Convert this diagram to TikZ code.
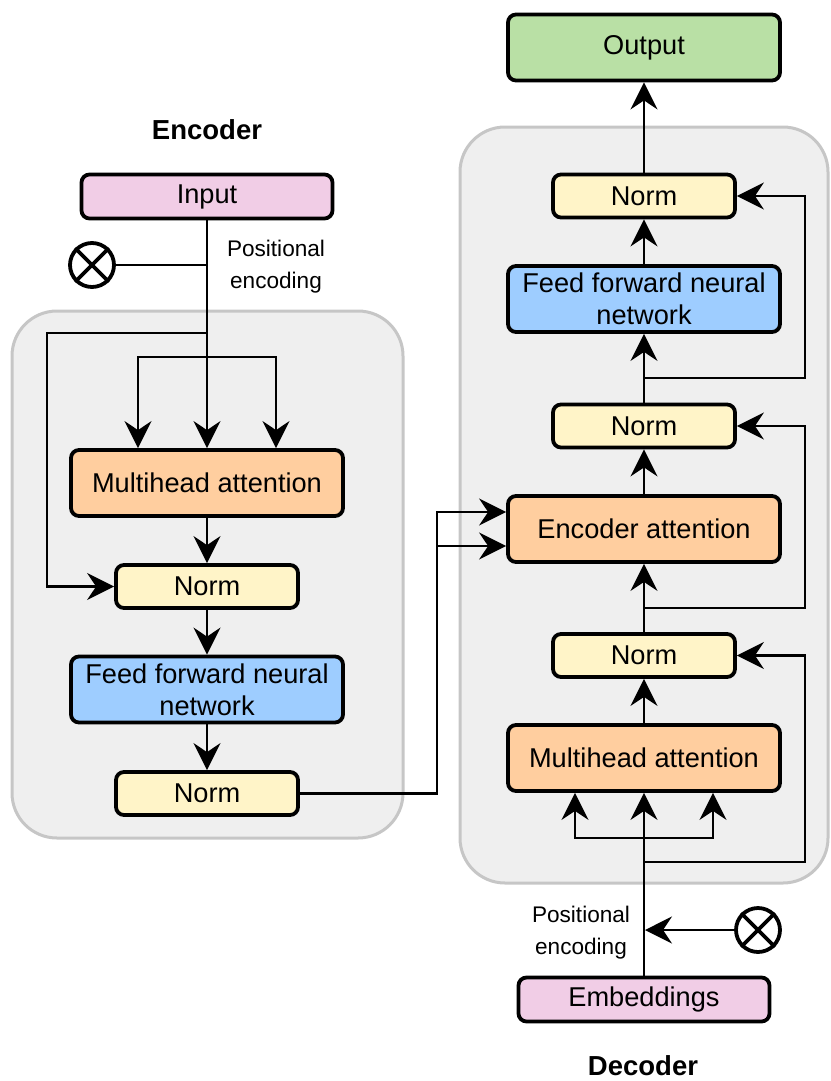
\documentclass[tikz,border=0pt]{standalone}
\usepackage{fontspec}
\setmainfont{Liberation Sans}
\usetikzlibrary{arrows.meta, positioning}
\definecolor{inputPink}{HTML}{F1CDE6}
\definecolor{attnOrange}{HTML}{FFCE9F}
\definecolor{normYellow}{HTML}{FFF4C8}
\definecolor{ffnBlue}{HTML}{9ECDFF}
\definecolor{outGreen}{HTML}{B9E0A5}
\definecolor{panelGray}{HTML}{EFEFEF}
\definecolor{panelEdge}{HTML}{C6C6C6}
\tikzset{
    block/.style={
        draw=black,
        line width=3.8pt,
        rounded corners=8pt,
        align=center,
        inner sep=0pt,
        font=\fontsize{27.2}{32}\selectfont
    },
    wideBlock/.style={block, minimum width=272pt, minimum height=66pt},
    normBlock/.style={block, fill=normYellow, minimum width=182pt, minimum height=43pt},
    ioBlock/.style={block, fill=inputPink, minimum width=251pt, minimum height=44pt},
    panel/.style={fill=panelGray, draw=panelEdge, line width=3pt, rounded corners=45pt},
    conn/.style={line width=2.4pt},
    flow/.style={conn, -{Stealth[length=27pt, width=27pt, inset=9pt]}},
    peCircle/.style={circle, draw=black, line width=3.8pt, minimum size=44pt, inner sep=0pt},
    peText/.style={align=center, font=\fontsize{22.6}{32}\selectfont},
    title/.style={inner sep=0pt, font=\fontsize{27.5}{32}\selectfont\bfseries}
}

\begin{document}
\begin{tikzpicture}[x=1pt, y=-1pt]
    \useasboundingbox (0,0) rectangle (830,1081);

    % Panels
    \draw[panel] (12,311) rectangle (403,838);
    \draw[panel] (460,127) rectangle (828,883);

    % Encoder
    \node[title] (encTitle) at (207,130) {Encoder};
    \node[ioBlock] (input) at (207,196.5) {Input};
    \node[peText] (encPeText) at (276,267) {Positional\\encoding};
    \node[peCircle] (encPe) at (92,265) {};
    \draw[line width=3.8pt] (encPe.north west) -- (encPe.south east)
        (encPe.north east) -- (encPe.south west);
    \node[wideBlock, fill=attnOrange] (encMha) at (207,483) {Multihead attention};
    \node[normBlock] (encNorm1) at (207,586.5) {Norm};
    \node[wideBlock, fill=ffnBlue] (encFfn) at (207,689.5) {Feed forward neural\\network};
    \node[normBlock] (encNorm2) at (207,793.5) {Norm};

    \coordinate (encPeJoin) at (207,265);
    \coordinate (encSplit) at (207,333);
    \coordinate (encFork) at (207,357);

    % Encoder connectors
    \draw[conn] (encPe) -- (encPeJoin);
    \draw[flow] (input) -- (encMha);
    \draw[flow] (encSplit) -- ++(-160,0) |- (encNorm1);
    \draw[flow] (encFork) -| ([xshift=-69pt]encMha.north);
    \draw[flow] (encFork) -| ([xshift=69pt]encMha.north);
    \draw[flow] (encMha) -- (encNorm1);
    \draw[flow] (encNorm1) -- (encFfn);
    \draw[flow] (encFfn) -- (encNorm2);

    % Decoder
    \node[wideBlock, fill=outGreen] (output) at (644,47.5) {Output};
    \node[normBlock] (decNorm3) at (644,196) {Norm};
    \node[wideBlock, fill=ffnBlue] (decFfn) at (644,299) {Feed forward neural\\network};
    \node[normBlock] (decNorm2) at (644,426) {Norm};
    \node[wideBlock, fill=attnOrange] (encAttn) at (644,529) {Encoder attention};
    \node[normBlock] (decNorm1) at (644,655.5) {Norm};
    \node[wideBlock, fill=attnOrange] (decMha) at (644,758) {Multihead attention};
    \node[ioBlock] (embed) at (644,999.5) {Embeddings};
    \node[peText] (decPeText) at (581,933) {Positional\\encoding};
    \node[peCircle] (decPe) at (758,930) {};
    \draw[line width=3.8pt] (decPe.north west) -- (decPe.south east)
        (decPe.north east) -- (decPe.south west);
    \node[title] (decTitle) at (643,1066) {Decoder};

    \coordinate (decSkip3) at (644,378);
    \coordinate (decSkip2) at (644,608);
    \coordinate (decSkip1) at (644,862);
    \coordinate (decFork) at (644,838);
    \coordinate (decPeJoin) at (645,930);

    % Decoder connectors
    \draw[flow] (decNorm3) -- (output);
    \draw[flow] (decFfn) -- (decNorm3);
    \draw[flow] (decNorm2) -- (decFfn);
    \draw[flow] (encAttn) -- (decNorm2);
    \draw[flow] (decNorm1) -- (encAttn);
    \draw[flow] (decMha) -- (decNorm1);
    \draw[flow] (embed) -- (decMha);
    \draw[flow] (decSkip3) -- ++(161,0) |- (decNorm3);
    \draw[flow] (decSkip2) -- ++(161,0) |- (decNorm2);
    \draw[flow] (decSkip1) -- ++(161,0) |- (decNorm1);
    \draw[flow] (decFork) -| ([xshift=-69pt]decMha.south);
    \draw[flow] (decFork) -| ([xshift=69pt]decMha.south);
    \draw[flow] (decPe) -- (decPeJoin);

    % Encoder to decoder
    \draw[flow] (encNorm2) -- (437,793.5) |- ([yshift=17pt]encAttn.west);
    \draw[flow] (437,546) -- ([yshift=-17pt]encAttn.west);
\end{tikzpicture}
\end{document}
